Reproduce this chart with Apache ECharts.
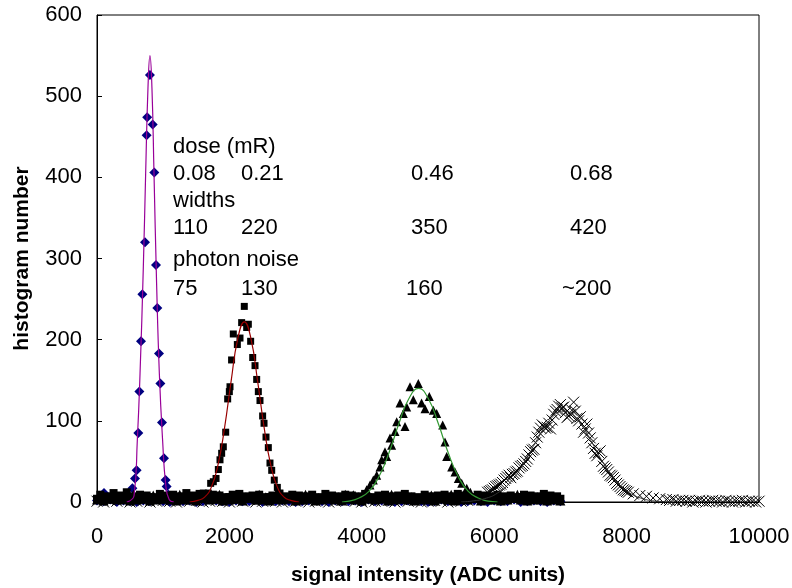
<!DOCTYPE html>
<html>
<head>
<meta charset="utf-8">
<script src="https://cdn.jsdelivr.net/npm/echarts@6/dist/echarts.min.js"></script>
<style>
  html, body { margin: 0; padding: 0; background: #fff; }
  #chart { width: 792px; height: 588px; }
</style>
</head>
<body>
<div id="chart"></div>
<script>
// 直方图数据
// 菱形：0.08 mR
const diamondX = [106, 534, 574, 599, 624, 640, 665, 685, 725, 750, 758, 800, 841, 866, 891, 911, 937, 957, 982, 1012, 1037, 1052, 1078];
const diamondY = [11, 17, 29, 39, 85, 136, 198, 256, 320, 452, 474, 526, 465, 406, 292, 239, 183, 146, 98, 54, 27, 19, 9];
// 方块：0.21 mR
const squareX = [1561, 1606, 1681, 1717, 1757, 1798, 1833, 1858, 1883, 1908, 1944, 1974, 1999, 2009, 2033, 2059, 2120, 2160, 2185, 2225, 2261, 2286, 2321, 2352, 2387, 2412, 2437, 2462, 2502, 2523, 2553, 2588, 2613, 2639, 2678, 2724, 2764, 2790];
const squareY = [9, 11, 11, 23, 25, 29, 40, 52, 60, 68, 86, 127, 136, 142, 175, 207, 194, 202, 221, 241, 215, 219, 198, 178, 168, 151, 136, 125, 106, 97, 80, 67, 48, 39, 27, 18, 11, 6];
// 三角：0.46 mR
const triX = [3872, 4073, 4124, 4174, 4225, 4275, 4300, 4350, 4376, 4426, 4451, 4502, 4527, 4577, 4627, 4653, 4678, 4728, 4778, 4854, 4903, 4955, 5020, 5080, 5131, 5222, 5257, 5282, 5358, 5408, 5458, 5509, 5585, 5640];
const triY = [9, 15, 21, 27, 33, 43, 52, 62, 56, 79, 70, 87, 99, 122, 109, 93, 117, 142, 126, 146, 122, 115, 130, 113, 109, 95, 74, 56, 43, 37, 29, 23, 17, 12];
// 叉号：0.68 mR（两组重叠的测量）
const crossX = [5900, 5950, 6000, 6050, 6100, 6150, 6200, 6250, 6300, 6350, 6400, 6450, 6500, 6550, 6600, 6650, 6700, 6750, 6800, 6850, 6900, 6950, 7000, 7050, 7100, 7150, 7200, 7250, 7300, 7350, 7400, 7450, 7500, 7550, 7600, 7650, 7700, 7750, 7800, 7850, 7900, 7950, 8000, 8100, 8200, 8300, 8400, 8500];
const crossY = [12, 14, 17, 20, 22, 27, 31, 30, 35, 38, 44, 47, 53, 62, 65, 80, 91, 93, 92, 90, 108, 114, 120, 117, 104, 108, 123, 103, 105, 86, 96, 79, 66, 57, 63, 44, 40, 33, 30, 23, 19, 15, 13, 10, 8, 7, 5, 4];
const crossX2 = [5925, 5975, 6025, 6075, 6125, 6175, 6225, 6275, 6325, 6375, 6425, 6475, 6525, 6575, 6625, 6675, 6725, 6775, 6825, 6875, 6925, 6975, 7025, 7075, 7125, 7175, 7225, 7275, 7325, 7375, 7425, 7475, 7525, 7575, 7625, 7675, 7725, 7775, 7825, 7875, 7925, 7975, 8025];
const crossY2 = [13, 15, 19, 21, 24, 29, 33, 34, 37, 42, 45, 50, 58, 64, 73, 86, 95, 91, 97, 101, 112, 118, 116, 110, 106, 113, 112, 100, 96, 90, 85, 73, 60, 61, 50, 42, 37, 32, 27, 21, 17, 14, 12];

// 底部（接近 0）的直方图区间
const baseBins = [0, 100, 200, 300, 400, 500, 600, 700, 800, 900, 1000, 1100, 1200, 1300, 1400, 1500, 1600, 1700, 1800, 1900, 2000, 2100, 2200, 2300, 2400, 2500, 2600, 2700, 2800, 2900, 3000, 3100, 3200, 3300, 3400, 3500, 3600, 3700, 3800, 3900, 4000, 4100, 4200, 4300, 4400, 4500, 4600, 4700, 4800, 4900, 5000, 5100, 5200, 5300, 5400, 5500, 5600, 5700, 5800, 5900, 6000, 6100, 6200, 6300, 6400, 6500, 6600, 6700, 6800, 6900, 7000];
const baseBins2 = [50, 150, 250, 350, 450, 550, 650, 750, 850, 950, 1050, 1150, 1250, 1350, 1450, 1550, 1650, 1750, 1850, 1950, 2050, 2150, 2250, 2350, 2450, 2550, 2650, 2750, 2850, 2950, 3050, 3150, 3250, 3350, 3450, 3550, 3650, 3750, 3850, 3950, 4050, 4150, 4250, 4350, 4450, 4550, 4650, 4750, 4850, 4950, 5050, 5150, 5250, 5350, 5450, 5550, 5650, 5750, 5850, 5950, 6050, 6150, 6250, 6350, 6450, 6550, 6650, 6750, 6850, 6950];
const diamondBase = [2, 1, 3, 0, 2, 1, 0, 2, 1, 3, 1, 0, 2, 1, 2, 0, 1, 3, 2, 1, 0, 2, 1, 1, 3, 0, 2, 1, 2, 1, 0, 1, 2, 3, 1, 0, 2, 1, 1, 2, 0, 3, 1, 2, 1, 0, 1, 2, 2, 1, 0, 1, 3, 1, 2, 0, 1, 2, 1, 0, 2, 1, 1, 3, 0, 1, 2, 1, 0, 2, 1];
const squareBase = [4, 6, 3, 5, 2, 4, 5, 3, 6, 4, 3, 5, 4, 2, 6, 3, 5, 4, 3, 5, 6, 4, 3, 5, 2, 4, 6, 3, 4, 5, 3, 2, 4, 5, 3, 6, 4, 2, 5, 3, 4, 5, 3, 6, 2, 4, 3, 5, 4, 2, 5, 3, 4, 6, 3, 2, 5, 4, 3, 4, 2, 5, 3, 4, 6, 3, 2, 4, 5, 3, 4];
const squareBase2 = [9, 7, 11, 8, 12, 7, 9, 8, 6, 10, 8, 9, 7, 11, 8, 10, 7, 9, 8, 6, 9, 10, 7, 8, 9, 6, 8, 10, 7, 9, 8, 7, 9, 6, 10, 8, 7, 9, 8, 7, 10, 6, 8, 9, 7, 8, 10, 7, 6, 9, 7, 8, 9, 7, 10, 8, 6, 9, 8, 7, 9, 7, 8, 6, 9, 8, 7, 10, 8, 7];
const triBase = [3, 2, 4, 3, 5, 2, 3, 4, 2, 3, 5, 3, 2, 4, 3, 2, 5, 3, 4, 2, 3, 4, 2, 5, 3, 3, 2, 4, 3, 5, 2, 3, 4, 2, 3, 5, 3, 2, 4, 3, 2, 4, 3, 5, 2, 3, 4, 3, 2, 5, 3, 2, 4, 3, 2, 4, 3, 5, 2, 3, 4, 2, 3, 5, 3, 2, 4, 3, 2, 3, 2];
const triBase2 = [6, 5, 8, 4, 7, 9, 5, 6, 8, 4, 7, 5, 9, 6, 4, 8, 5, 6, 9, 5, 4, 8, 6, 5, 9, 6, 5, 8, 4, 6, 5, 9, 6, 5, 8, 4, 6, 9, 5, 6, 8, 5, 4, 6, 9, 5, 8, 6, 4, 5, 8, 6, 5, 9, 4, 6, 8, 5, 6, 4, 8, 5, 6, 9, 5, 4, 6, 8, 5, 4];
const crossBaseX = [0, 100, 200, 300, 400, 500, 600, 700, 800, 900, 1000, 1100, 1200, 1300, 1400, 1500, 1600, 1700, 1800, 1900, 2000, 2100, 2200, 2300, 2400, 2500, 2600, 2700, 2800, 2900, 3000, 3100, 3200, 3300, 3400, 3500, 3600, 3700, 3800, 3900, 4000, 4100, 4200, 4300, 4400, 4500, 4600, 4700, 4800, 4900, 5000, 5100, 5200, 5300, 5400, 5500, 5600, 5700, 5800,
  8600, 8650, 8700, 8750, 8800, 8850, 8900, 8950, 9000, 9050, 9100, 9150, 9200, 9250, 9300, 9350, 9400, 9450, 9500, 9550, 9600, 9650, 9700, 9750, 9800, 9850, 9900, 9950, 10000];
const crossBaseY = [1, 0, 2, 1, 3, 0, 1, 2, 0, 1, 2, 1, 0, 3, 1, 2, 0, 1, 2, 1, 0, 2, 1, 3, 0, 1, 2, 1, 0, 2, 1, 3, 0, 1, 2, 0, 1, 2, 3, 1, 0, 2, 1, 1, 2, 0, 3, 1, 2, 0, 1, 2, 1, 0, 3, 1, 2, 4, 6,
  3, 2, 3, 1, 2, 2, 1, 2, 0, 1, 2, 1, 0, 1, 2, 1, 1, 0, 2, 1, 0, 1, 1, 2, 0, 1, 1, 0, 1];

// 拟合曲线（从图上读取的点）
const fitPurpleX = [450, 560, 609, 650, 700, 735, 770, 800, 830, 861, 900, 942, 991, 1040, 1090, 1160];
const fitPurpleY = [0, 8, 76, 158, 290, 405, 510, 550, 510, 405, 270, 158, 76, 20, 3, 0];
const fitRedX = [1400, 1526, 1626, 1726, 1826, 1926, 2026, 2126, 2226, 2326, 2426, 2526, 2626, 2726, 2826, 2926, 3050];
const fitRedY = [0, 2, 6, 18, 45, 91, 149, 201, 222, 201, 149, 91, 45, 18, 6, 2, 0];
const fitGreenX = [3700, 3808, 3958, 4108, 4258, 4408, 4558, 4708, 4858, 5008, 5158, 5308, 5458, 5608, 5758, 5908, 6050];
const fitGreenY = [0, 1, 5, 13, 31, 60, 96, 127, 140, 127, 96, 60, 31, 13, 5, 1, 0];
const fitBlackX = [5500, 5650, 5850, 6050, 6250, 6450, 6650, 6850, 7050, 7250, 7450, 7650, 7850, 8050, 8250, 8450, 8700];
const fitBlackY = [0, 1, 4, 11, 25, 48, 77, 102, 112, 102, 77, 48, 25, 11, 4, 1, 0];

// 注释文字
const noteTitles = ['dose (mR)', 'widths', 'photon noise'];
const doseLabels = ['0.08', '0.21', '0.46', '0.68'];
const widthLabels = ['110', '220', '350', '420'];
const noiseLabels = ['75', '130', '160', '~200'];

const FONT = '"Liberation Sans", Arial, sans-serif';

function pairs(xs, ys) {
  return xs.map((x, i) => [x, ys[i]]).filter(p => p[1] !== undefined);
}

function initChart() {
  const chart = echarts.init(document.getElementById('chart'), null, { renderer: 'canvas' });

  const textStyle = { font: '22px ' + FONT, fill: '#000', verticalAlign: 'middle' };
  const colX = [173, 241, 411, 570];
  const graphic = [];
  function addText(txt, x, y) {
    graphic.push({ type: 'text', x: x, y: y, z: 100, style: Object.assign({ text: txt }, textStyle) });
  }
  addText(noteTitles[0], 173, 147);
  doseLabels.forEach((t, i) => addText(t, colX[i], 174));
  addText(noteTitles[1], 173, 201);
  widthLabels.forEach((t, i) => addText(t, colX[i], 228));
  addText(noteTitles[2], 173, 260);
  noiseLabels.forEach((t, i) => addText(t, i === 3 ? 562 : (i === 2 ? 406 : colX[i]), 289));

  const crossPath = 'path://M0,0L10,10M10,0L0,10';
  const crossStyle = { color: '#000', borderColor: '#000', borderWidth: 1, opacity: 1 };

  const option = {
    animation: false,
    backgroundColor: '#fff',
    grid: {
      left: 97, top: 15, right: 33, bottom: 86,
      outerBoundsMode: 'none',
      show: true, borderColor: '#000', borderWidth: 1, backgroundColor: 'transparent'
    },
    xAxis: {
      type: 'value', min: 0, max: 10000, interval: 2000,
      name: 'signal intensity (ADC units)',
      nameLocation: 'middle', nameGap: 63,
      nameTextStyle: { fontFamily: FONT, fontSize: 21, fontWeight: 'bold', color: '#000' },
      axisLine: { show: true, onZero: false, lineStyle: { color: '#000', width: 1 } },
      axisTick: { show: false },
      splitLine: { show: false },
      axisLabel: { fontFamily: FONT, fontSize: 22, color: '#000', margin: 24, formatter: v => String(v) }
    },
    yAxis: {
      type: 'value', min: 0, max: 600, interval: 100,
      name: 'histogram number',
      nameLocation: 'middle', nameGap: 64,
      nameTextStyle: { fontFamily: FONT, fontSize: 21, fontWeight: 'bold', color: '#000' },
      axisLine: { show: true, lineStyle: { color: '#000', width: 1 } },
      axisTick: { show: true, inside: true, length: 5, lineStyle: { color: '#000' } },
      splitLine: { show: false },
      axisLabel: { fontFamily: FONT, fontSize: 22, color: '#000', margin: 15, formatter: v => String(v) }
    },
    graphic: graphic,
    series: [
      {
        type: 'scatter', name: 'diamond base', symbol: 'diamond', symbolSize: 10,
        itemStyle: { color: '#000080', opacity: 1 }, data: pairs(baseBins, diamondBase), z: 2
      },
      {
        type: 'scatter', name: '0.08 mR', symbol: 'diamond', symbolSize: 10,
        itemStyle: { color: '#000080', opacity: 1 }, data: pairs(diamondX, diamondY), z: 2
      },
      {
        type: 'scatter', name: 'square base', symbol: 'rect', symbolSize: 8,
        itemStyle: { color: '#000', opacity: 1 }, data: pairs(baseBins, squareBase).concat(pairs(baseBins2, squareBase2)), z: 3
      },
      {
        type: 'scatter', name: '0.21 mR', symbol: 'rect', symbolSize: 7,
        itemStyle: { color: '#000', opacity: 1 }, data: pairs(squareX, squareY), z: 3
      },
      {
        type: 'scatter', name: 'tri base', symbol: 'triangle', symbolSize: 10,
        itemStyle: { color: '#000', opacity: 1 }, data: pairs(baseBins, triBase).concat(pairs(baseBins2, triBase2)), z: 3
      },
      {
        type: 'scatter', name: '0.46 mR', symbol: 'triangle', symbolSize: 9,
        itemStyle: { color: '#000', opacity: 1 }, data: pairs(triX, triY), z: 3
      },
      {
        type: 'scatter', name: 'cross base', symbol: crossPath, symbolSize: 11,
        itemStyle: crossStyle, data: pairs(crossBaseX, crossBaseY), z: 4
      },
      {
        type: 'scatter', name: '0.68 mR', symbol: crossPath, symbolSize: 11,
        itemStyle: crossStyle, data: pairs(crossX, crossY).concat(pairs(crossX2, crossY2)), z: 4
      },
      {
        type: 'line', name: 'fit 0.08', smooth: true, showSymbol: false, z: 5,
        lineStyle: { color: '#990099', width: 1.2 }, data: pairs(fitPurpleX, fitPurpleY)
      },
      {
        type: 'line', name: 'fit 0.21', smooth: true, showSymbol: false, z: 5,
        lineStyle: { color: '#990000', width: 1.2 }, data: pairs(fitRedX, fitRedY)
      },
      {
        type: 'line', name: 'fit 0.46', smooth: true, showSymbol: false, z: 5,
        lineStyle: { color: '#339933', width: 1.2 }, data: pairs(fitGreenX, fitGreenY)
      },
      {
        type: 'line', name: 'fit 0.68', smooth: true, showSymbol: false, z: 5,
        lineStyle: { color: '#333', width: 1 }, data: pairs(fitBlackX, fitBlackY)
      }
    ]
  };

  chart.setOption(option);
}

if (document.readyState === 'loading') {
  document.addEventListener('DOMContentLoaded', initChart);
} else {
  initChart();
}
</script>
</body>
</html>
